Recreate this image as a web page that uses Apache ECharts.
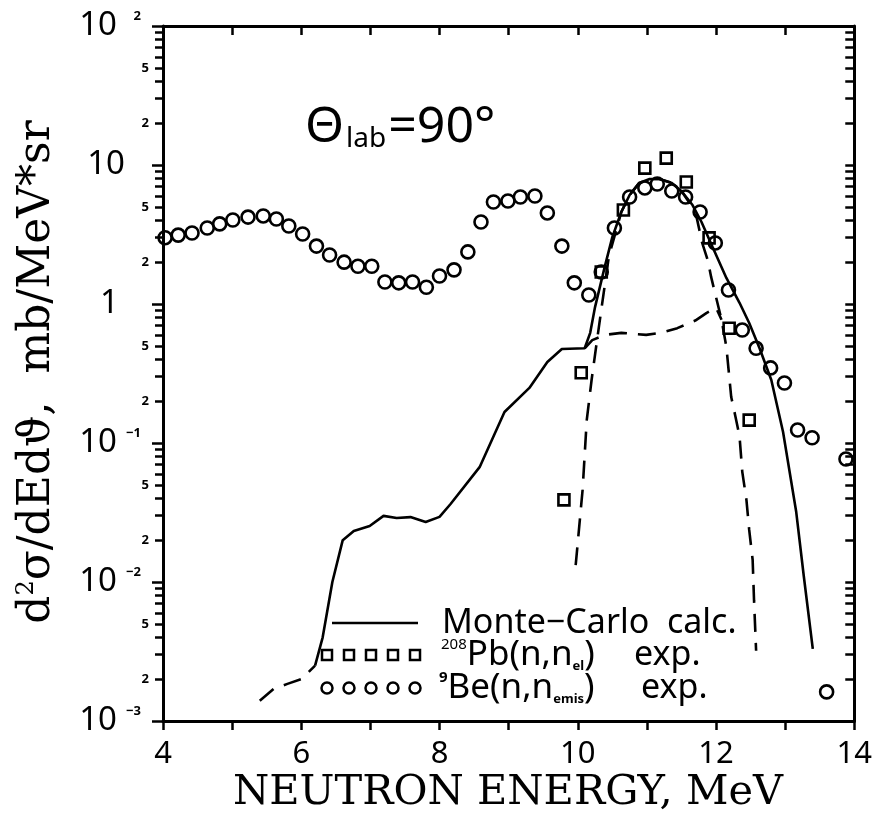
<!DOCTYPE html>
<html><head><meta charset="utf-8">
<script src="https://cdn.jsdelivr.net/npm/echarts@6/dist/echarts.min.js"></script>
<style>html,body{margin:0;padding:0;background:#fff}#c{width:875px;height:817px}</style>
</head><body><div id="c"></div>
<script>
// Monte-Carlo calculation (solid line)
const mcE = [6.20, 6.31, 6.45, 6.60, 6.76, 6.99, 7.19, 7.38, 7.58, 7.80, 8.00, 8.16, 8.58, 8.94, 9.30, 9.56, 9.77, 10.10, 10.18, 10.25, 10.39, 10.50, 10.63, 10.75, 10.89, 11.04, 11.18, 11.36, 11.51, 11.66, 11.79, 11.95, 12.15, 12.34, 12.48, 12.63, 12.80, 12.97, 13.16, 13.27, 13.40];
const mcV = [0.0025, 0.0040, 0.0100, 0.020, 0.0233, 0.0253, 0.0299, 0.0289, 0.0293, 0.0270, 0.0294, 0.0364, 0.067, 0.167, 0.249, 0.383, 0.474, 0.48, 0.62, 0.95, 1.85, 3.03, 4.59, 6.08, 7.43, 7.93, 7.93, 7.43, 6.40, 5.15, 3.89, 2.57, 1.54, 1.02, 0.73, 0.48, 0.284, 0.12, 0.032, 0.011, 0.0033];
// dashed: elastic peak
const elE = [9.97, 10.07, 10.13, 10.20, 10.27, 10.34, 10.45, 10.63, 10.75, 10.89, 11.04, 11.18, 11.36, 11.51, 11.62, 11.72, 11.80, 11.88, 11.93, 12.00, 12.08, 12.15, 12.22, 12.28, 12.34, 12.38, 12.44, 12.48, 12.53, 12.55, 12.58];
const elV = [0.0132, 0.046, 0.146, 0.284, 0.51, 0.906, 2.2, 4.59, 6.08, 7.43, 7.93, 7.93, 7.43, 6.40, 5.3, 4.2, 2.75, 2.07, 1.56, 1.12, 0.77, 0.49, 0.214, 0.156, 0.112, 0.062, 0.039, 0.0237, 0.0144, 0.0074, 0.0032];
// dashed: other contribution, low-energy part
const bgLowE = [5.40, 5.60, 5.80, 6.00, 6.20];
const bgLowV = [0.00140, 0.00170, 0.00185, 0.00200, 0.00250];
// dashed: other contribution, high-energy part
const bgHighE = [10.10, 10.21, 10.40, 10.63, 10.99, 11.20, 11.44, 11.70, 11.86, 12.00, 12.08];
const bgHighV = [0.48, 0.55, 0.60, 0.62, 0.60, 0.62, 0.67, 0.76, 0.86, 0.94, 0.77];
// 208Pb(n,n_el) exp. (squares)
const pbE = [9.80, 10.05, 10.34, 10.66, 10.97, 11.28, 11.57, 11.90, 12.19, 12.48];
const pbV = [0.039, 0.32, 1.70, 4.74, 9.5, 11.2, 7.55, 2.99, 0.67, 0.146];
// 9Be(n,n_emis) exp. (circles)
const beE = [4.03, 4.22, 4.42, 4.64, 4.82, 5.01, 5.23, 5.45, 5.64, 5.82, 6.02, 6.22, 6.41, 6.62, 6.82, 7.02, 7.21, 7.41, 7.61, 7.81, 8.00, 8.21, 8.41, 8.60, 8.78, 8.99, 9.17, 9.38, 9.56, 9.77, 9.95, 10.16, 10.34, 10.53, 10.75, 10.97, 11.15, 11.36, 11.56, 11.77, 11.99, 12.18, 12.38, 12.58, 12.79, 12.99, 13.18, 13.39, 13.60, 13.88];
const beV = [3.0, 3.13, 3.24, 3.52, 3.77, 4.02, 4.22, 4.30, 4.09, 3.64, 3.19, 2.61, 2.25, 2.00, 1.87, 1.87, 1.44, 1.42, 1.44, 1.32, 1.59, 1.76, 2.37, 3.89, 5.42, 5.51, 5.89, 5.98, 4.52, 2.61, 1.42, 1.16, 1.70, 3.52, 5.89, 6.84, 7.30, 6.50, 5.89, 4.59, 2.75, 1.26, 0.65, 0.48, 0.347, 0.27, 0.124, 0.109, 0.00162, 0.0767];
// axis ticks
const xTickLabels = [4, 6, 8, 10, 12, 14];
const yDecades = [0.001, 0.01, 0.1, 1, 10, 100];
const yMinorMultipliers = [2, 3, 4, 5, 6, 7, 8, 9];
const yMinorLabelMultipliers = [2, 5];

const pairs = (a, b) => a.map((v, i) => [v, b[i]]);
const yMinor = [];
yDecades.slice(0, -1).forEach(d => yMinorMultipliers.forEach(m => yMinor.push(+(d * m).toPrecision(3))));
const yAll = yDecades.concat(yMinor);

const FONT = '"Noto Sans", sans-serif';
const SERIF = '"DejaVu Serif", serif';
const chart = echarts.init(document.getElementById('c'), null, {renderer: 'canvas'});

const majorFmt = v => {
  const e = Math.round(Math.log10(v));
  if (e === 1) return '{b|10}{gap1|}';
  if (e === 0) return '{b|1}{gap0|}';
  return '{b|10}{e|' + (e < 0 ? '\u2212' + (-e) : e) + '}';
};
const minorFmt = v => {
  const e = Math.floor(Math.log10(v) + 1e-9);
  const m = Math.round(v / Math.pow(10, e));
  return yMinorLabelMultipliers.includes(m) ? String(m) : '';
};

const lineStyleBase = {color: '#000', width: 2.6};
const dashStyle = Object.assign({}, lineStyleBase, {type: [18, 11]});
const option = {
  animation: false,
  backgroundColor: '#fff',
  grid: {left: 163, right: 20, top: 26, bottom: 96, containLabel: false},
  xAxis: [
    {type: 'value', min: 4, max: 14, interval: 1, position: 'bottom',
     axisLine: {show: true, lineStyle: {color: '#000', width: 3}},
     axisTick: {show: true, inside: false, length: 9, lineStyle: {color: '#000', width: 2.5}},
     axisLabel: {margin: 18, fontFamily: FONT, fontSize: 31, color: '#000',
       formatter: v => xTickLabels.includes(v) ? String(v) : ''},
     splitLine: {show: false}},
    {type: 'value', min: 4, max: 14, interval: 1, position: 'top',
     axisLine: {show: true, lineStyle: {color: '#000', width: 3}},
     axisTick: {show: true, inside: true, length: 9, lineStyle: {color: '#000', width: 2.5}},
     axisLabel: {show: false}, splitLine: {show: false}}
  ],
  yAxis: [
    {type: 'log', logBase: 10, min: 0.001, max: 100, position: 'left',
     axisLine: {show: true, lineStyle: {color: '#000', width: 3}},
     axisTick: {show: true, inside: false, length: 11, customValues: yDecades, lineStyle: {color: '#000', width: 2.5}},
     axisLabel: {show: true, customValues: yDecades, margin: 22, formatter: majorFmt,
       rich: {
         b: {fontFamily: FONT, fontSize: 33, color: '#000', verticalAlign: 'middle'},
         e: {fontFamily: FONT, fontSize: 13, fontWeight: 'bold', color: '#000', verticalAlign: 'top', width: 24, align: 'right', padding: [0, 0, 14, 0]},
         gap1: {width: 16}, gap0: {width: 22}
       }},
     splitLine: {show: false}},
    {type: 'log', logBase: 10, min: 0.001, max: 100, position: 'left',
     axisLine: {show: false},
     axisTick: {show: true, inside: false, length: 8, customValues: yMinor, lineStyle: {color: '#000', width: 2.5}},
     axisLabel: {show: true, customValues: yMinor, margin: 14, formatter: minorFmt,
       fontFamily: FONT, fontSize: 13, fontWeight: 'bold', color: '#000'},
     splitLine: {show: false}},
    {type: 'log', logBase: 10, min: 0.001, max: 100, position: 'right',
     axisLine: {show: true, lineStyle: {color: '#000', width: 3}},
     axisTick: {show: true, inside: true, length: 9, customValues: yAll, lineStyle: {color: '#000', width: 2.5}},
     axisLabel: {show: false}, splitLine: {show: false}}
  ],
  series: [
    {name: 'Monte-Carlo calc.', type: 'line', data: pairs(mcE, mcV), symbol: 'none', lineStyle: lineStyleBase, z: 3},
    {name: 'elastic', type: 'line', data: pairs(elE, elV), symbol: 'none', lineStyle: dashStyle, z: 2},
    {name: 'other-low', type: 'line', data: pairs(bgLowE, bgLowV), symbol: 'none', lineStyle: dashStyle, z: 2},
    {name: 'other-high', type: 'line', data: pairs(bgHighE, bgHighV), symbol: 'none', lineStyle: dashStyle, z: 2},
    {name: '208Pb(n,nel) exp.', type: 'scatter', data: pairs(pbE, pbV), symbol: 'rect', symbolSize: 11,
     itemStyle: {color: 'rgba(255,255,255,0)', borderColor: '#000', borderWidth: 2.6, opacity: 1}, z: 4},
    {name: '9Be(n,nemis) exp.', type: 'scatter', data: pairs(beE, beV), symbol: 'circle', symbolSize: 13,
     itemStyle: {color: 'rgba(255,255,255,0)', borderColor: '#000', borderWidth: 2.6, opacity: 1}, z: 4}
  ],
  graphic: [
    // axis titles
    {type: 'text', x: 38, y: 372, rotation: Math.PI / 2, z: 10,
     style: {text: '{m|d}{s|2}{m|\u03c3/dEd\u03d1,  mb/MeV*sr}', align: 'center', verticalAlign: 'middle',
       rich: {m: {fontFamily: SERIF, fontSize: 44, fill: '#000'},
              s: {fontFamily: SERIF, fontSize: 24, fill: '#000', verticalAlign: 'top', padding: [0, 0, 22, 0]}}}},
    {type: 'text', x: 508, y: 793, z: 10,
     style: {text: 'NEUTRON ENERGY, MeV', align: 'center', verticalAlign: 'middle',
       fontFamily: SERIF, fontSize: 41.5, fill: '#000'}},
    // angle label
    {type: 'text', x: 305, y: 128, z: 10,
     style: {text: '{t|\u0398}{s|lab}{t|=90\u00b0}', verticalAlign: 'middle',
       rich: {t: {fontFamily: FONT, fontSize: 50, fill: '#000'},
              s: {fontFamily: FONT, fontSize: 28, fill: '#000', verticalAlign: 'bottom', padding: [20, 2, 0, 2]}}}},
    // legend
    {type: 'line', shape: {x1: 332, y1: 623, x2: 418, y2: 623}, style: {stroke: '#000', lineWidth: 2.6}},
    {type: 'text', x: 442, y: 623, style: {text: 'Monte\u2212Carlo  calc.', verticalAlign: 'middle', fontFamily: FONT, fontSize: 34, fill: '#000'}},
    {type: 'group', children: [327, 349, 371, 393, 415].map(x => ({type: 'rect', shape: {x: x - 5, y: 650, width: 10, height: 10}, style: {fill: 'none', stroke: '#000', lineWidth: 2.5}}))},
    {type: 'group', children: [327, 349, 371, 393, 415].map(x => ({type: 'circle', shape: {cx: x, cy: 688, r: 5.5}, style: {fill: 'none', stroke: '#000', lineWidth: 2.5}}))},
    {type: 'text', x: 441, y: 655, style: {text: '{p|208}{m|Pb(n,n}{b|el}{m|)}', verticalAlign: 'middle',
       rich: {m: {fontFamily: FONT, fontSize: 35, fill: '#000'}, p: {fontFamily: FONT, fontSize: 15, fill: '#000', verticalAlign: 'top', padding: [0, 0, 16, 0]},
              b: {fontFamily: FONT, fontSize: 13, fontWeight: 'bold', fill: '#000', verticalAlign: 'bottom', padding: [14, 0, 0, 0]}}}},
    {type: 'text', x: 634, y: 655, style: {text: 'exp.', verticalAlign: 'middle', fontFamily: FONT, fontSize: 34, fill: '#000'}},
    {type: 'text', x: 439, y: 688, style: {text: '{p|9}{m|Be(n,n}{b|emis}{m|)}', verticalAlign: 'middle',
       rich: {m: {fontFamily: FONT, fontSize: 35, fill: '#000'}, p: {fontFamily: FONT, fontSize: 15, fontWeight: 'bold', fill: '#000', verticalAlign: 'top', padding: [0, 0, 16, 0]},
              b: {fontFamily: FONT, fontSize: 13, fontWeight: 'bold', fill: '#000', verticalAlign: 'bottom', padding: [14, 0, 0, 0]}}}},
    {type: 'text', x: 641, y: 688, style: {text: 'exp.', verticalAlign: 'middle', fontFamily: FONT, fontSize: 34, fill: '#000'}}
  ]
};
chart.setOption(option);
</script>
</body></html>
